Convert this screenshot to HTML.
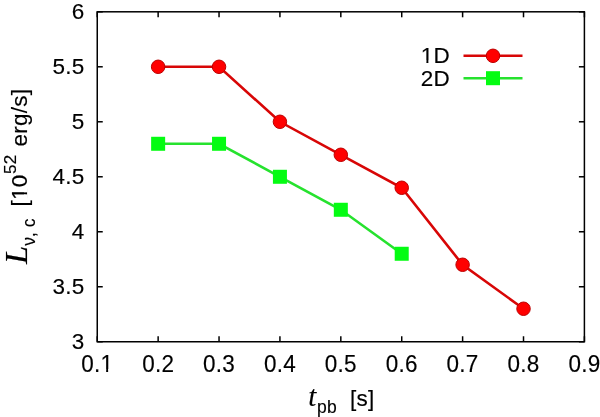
<!DOCTYPE html>
<html><head><meta charset="utf-8"><style>
html,body{margin:0;padding:0;background:#fff;}
svg{display:block;}
.ax{stroke:#000;stroke-width:1.5;fill:none;}
.tl{font-family:"Liberation Sans", Arial, Helvetica, sans-serif;font-size:22.5px;fill:#000;stroke:#000;stroke-width:0.15px;letter-spacing:0.25px;}
.it{font-family:"Liberation Serif", "Times New Roman", serif;font-style:italic;}
</style></head><body>
<svg width="600" height="417" viewBox="0 0 600 417">
<rect x="0" y="0" width="600" height="417" fill="#fff"/>
<line x1="97.25" y1="341.75" x2="97.25" y2="336.25" class="ax"/>
<line x1="97.25" y1="11.8" x2="97.25" y2="17.3" class="ax"/>
<line x1="158.14" y1="341.75" x2="158.14" y2="336.25" class="ax"/>
<line x1="158.14" y1="11.8" x2="158.14" y2="17.3" class="ax"/>
<line x1="219.04" y1="341.75" x2="219.04" y2="336.25" class="ax"/>
<line x1="219.04" y1="11.8" x2="219.04" y2="17.3" class="ax"/>
<line x1="279.93" y1="341.75" x2="279.93" y2="336.25" class="ax"/>
<line x1="279.93" y1="11.8" x2="279.93" y2="17.3" class="ax"/>
<line x1="340.82" y1="341.75" x2="340.82" y2="336.25" class="ax"/>
<line x1="340.82" y1="11.8" x2="340.82" y2="17.3" class="ax"/>
<line x1="401.72" y1="341.75" x2="401.72" y2="336.25" class="ax"/>
<line x1="401.72" y1="11.8" x2="401.72" y2="17.3" class="ax"/>
<line x1="462.61" y1="341.75" x2="462.61" y2="336.25" class="ax"/>
<line x1="462.61" y1="11.8" x2="462.61" y2="17.3" class="ax"/>
<line x1="523.51" y1="341.75" x2="523.51" y2="336.25" class="ax"/>
<line x1="523.51" y1="11.8" x2="523.51" y2="17.3" class="ax"/>
<line x1="584.40" y1="341.75" x2="584.40" y2="336.25" class="ax"/>
<line x1="584.40" y1="11.8" x2="584.40" y2="17.3" class="ax"/>
<line x1="97.25" y1="341.75" x2="102.75" y2="341.75" class="ax"/>
<line x1="584.4" y1="341.75" x2="578.9" y2="341.75" class="ax"/>
<line x1="97.25" y1="286.76" x2="102.75" y2="286.76" class="ax"/>
<line x1="584.4" y1="286.76" x2="578.9" y2="286.76" class="ax"/>
<line x1="97.25" y1="231.77" x2="102.75" y2="231.77" class="ax"/>
<line x1="584.4" y1="231.77" x2="578.9" y2="231.77" class="ax"/>
<line x1="97.25" y1="176.78" x2="102.75" y2="176.78" class="ax"/>
<line x1="584.4" y1="176.78" x2="578.9" y2="176.78" class="ax"/>
<line x1="97.25" y1="121.78" x2="102.75" y2="121.78" class="ax"/>
<line x1="584.4" y1="121.78" x2="578.9" y2="121.78" class="ax"/>
<line x1="97.25" y1="66.79" x2="102.75" y2="66.79" class="ax"/>
<line x1="584.4" y1="66.79" x2="578.9" y2="66.79" class="ax"/>
<line x1="97.25" y1="11.80" x2="102.75" y2="11.80" class="ax"/>
<line x1="584.4" y1="11.80" x2="578.9" y2="11.80" class="ax"/>
<rect x="97.25" y="11.8" width="487.15" height="329.95" class="ax" fill="none"/>
<text transform="translate(84.50,349.05) scale(1,0.99)" x="0" y="0" text-anchor="end" class="tl">3</text>
<text transform="translate(84.50,294.06) scale(1,0.99)" x="0" y="0" text-anchor="end" class="tl">3.5</text>
<text transform="translate(84.50,239.07) scale(1,0.99)" x="0" y="0" text-anchor="end" class="tl">4</text>
<text transform="translate(84.50,184.08) scale(1,0.99)" x="0" y="0" text-anchor="end" class="tl">4.5</text>
<text transform="translate(84.50,129.08) scale(1,0.99)" x="0" y="0" text-anchor="end" class="tl">5</text>
<text transform="translate(84.50,74.09) scale(1,0.99)" x="0" y="0" text-anchor="end" class="tl">5.5</text>
<text transform="translate(84.50,19.10) scale(1,0.99)" x="0" y="0" text-anchor="end" class="tl">6</text>
<text transform="translate(97.25,371.70) scale(1,1.025)" x="0" y="0" text-anchor="middle" class="tl">0.1</text>
<text transform="translate(158.14,371.70) scale(1,1.025)" x="0" y="0" text-anchor="middle" class="tl">0.2</text>
<text transform="translate(219.04,371.70) scale(1,1.025)" x="0" y="0" text-anchor="middle" class="tl">0.3</text>
<text transform="translate(279.93,371.70) scale(1,1.025)" x="0" y="0" text-anchor="middle" class="tl">0.4</text>
<text transform="translate(340.82,371.70) scale(1,1.025)" x="0" y="0" text-anchor="middle" class="tl">0.5</text>
<text transform="translate(401.72,371.70) scale(1,1.025)" x="0" y="0" text-anchor="middle" class="tl">0.6</text>
<text transform="translate(462.61,371.70) scale(1,1.025)" x="0" y="0" text-anchor="middle" class="tl">0.7</text>
<text transform="translate(523.51,371.70) scale(1,1.025)" x="0" y="0" text-anchor="middle" class="tl">0.8</text>
<text transform="translate(584.40,371.70) scale(1,1.025)" x="0" y="0" text-anchor="middle" class="tl">0.9</text>
<polyline points="158.14,143.78 219.04,143.78 279.93,176.78 340.82,209.77 401.72,253.76" fill="none" stroke="#26e22e" stroke-width="2.6"/>
<rect x="151.14" y="136.78" width="14" height="14" fill="#04fc12"/>
<rect x="212.04" y="136.78" width="14" height="14" fill="#04fc12"/>
<rect x="272.93" y="169.78" width="14" height="14" fill="#04fc12"/>
<rect x="333.82" y="202.77" width="14" height="14" fill="#04fc12"/>
<rect x="394.72" y="246.76" width="14" height="14" fill="#04fc12"/>
<polyline points="158.14,66.79 219.04,66.79 279.93,121.78 340.82,154.78 401.72,187.77 462.61,264.76 523.51,308.75" fill="none" stroke="#d80606" stroke-width="2.6"/>
<circle cx="158.14" cy="66.79" r="6.75" fill="#ff0000" stroke="#bc0000" stroke-width="1"/>
<circle cx="219.04" cy="66.79" r="6.75" fill="#ff0000" stroke="#bc0000" stroke-width="1"/>
<circle cx="279.93" cy="121.78" r="6.75" fill="#ff0000" stroke="#bc0000" stroke-width="1"/>
<circle cx="340.82" cy="154.78" r="6.75" fill="#ff0000" stroke="#bc0000" stroke-width="1"/>
<circle cx="401.72" cy="187.77" r="6.75" fill="#ff0000" stroke="#bc0000" stroke-width="1"/>
<circle cx="462.61" cy="264.76" r="6.75" fill="#ff0000" stroke="#bc0000" stroke-width="1"/>
<circle cx="523.51" cy="308.75" r="6.75" fill="#ff0000" stroke="#bc0000" stroke-width="1"/>
<text transform="translate(450.00,63.10) scale(1,0.99)" x="0" y="0" text-anchor="end" class="tl">1D</text>
<text transform="translate(450.00,85.50) scale(1,0.99)" x="0" y="0" text-anchor="end" class="tl">2D</text>
<line x1="463.5" y1="55.8" x2="522.5" y2="55.8" stroke="#d80606" stroke-width="2.6"/>
<circle cx="493" cy="55.8" r="6.75" fill="#ff0000" stroke="#bc0000" stroke-width="1"/>
<line x1="463.5" y1="78.2" x2="522.5" y2="78.2" stroke="#26e22e" stroke-width="2.6"/>
<rect x="486" y="71.2" width="14" height="14" fill="#04fc12"/>
<text y="405.5" class="tl"><tspan x="308.3" class="it" font-size="29">t</tspan><tspan x="317" font-size="17.5" dy="7">pb</tspan><tspan x="350" dy="-7">[s]</tspan></text>
<text transform="translate(26.8,266) rotate(-90)" y="0" class="tl"><tspan x="2" class="it" font-size="32.5">L</tspan><tspan x="20.2" font-size="17.5" dy="8" letter-spacing="0">ν, c</tspan><tspan x="59.5" dy="-8">[10</tspan><tspan x="92" font-size="17" dy="-10.9">52</tspan><tspan x="119.5" dy="10.9">erg/s]</tspan></text>
<g transform="translate(97.25,371.70) scale(1,1.025)"><rect x="4.08" y="-2.58" width="4.81" height="3.28" fill="#fff"/><rect x="10.88" y="-2.58" width="4.63" height="3.28" fill="#fff"/></g>
<g transform="translate(450.00,63.10) scale(1,0.99)"><rect x="-28.41" y="-2.58" width="4.81" height="3.28" fill="#fff"/><rect x="-21.61" y="-2.58" width="4.63" height="3.28" fill="#fff"/></g>
<g transform="translate(26.8,266) rotate(-90)"><rect x="66.85" y="-2.58" width="4.81" height="3.28" fill="#fff"/><rect x="73.65" y="-2.58" width="4.63" height="3.28" fill="#fff"/></g>
</svg>
</body></html>
